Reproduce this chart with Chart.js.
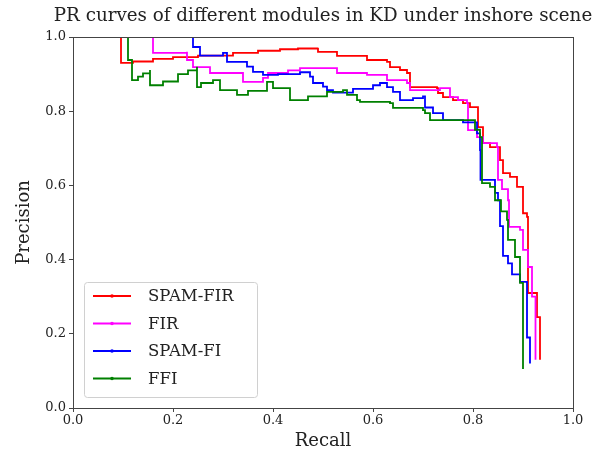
<!DOCTYPE html>
<html lang="en">
<head>
    <meta charset="UTF-8" />
    <title>PR curves</title>
    <script src="https://cdn.jsdelivr.net/npm/chart.js@4"></script>
    <style>
        html, body { margin: 0; padding: 0; background: #fff; }
    </style>
</head>
<body>
    <canvas id="myChart" width="608" height="454"></canvas>
    <script>
        // PR curve data (recall, precision)
        const chartTitle = "PR curves of different modules in KD under inshore scene";
        const seriesNames = ["SPAM-FIR", "FIR", "SPAM-FI", "FFI"];
        const seriesColors = ["#ff0000", "#ff00ff", "#0000ff", "#008000"];
        const xTicks = [0, 0.2, 0.4, 0.6, 0.8, 1.0];
        const yTicks = [0, 0.2, 0.4, 0.6, 0.8, 1.0];

        const recallSpamFir = [0, 0.096, 0.12, 0.16, 0.2, 0.25, 0.32, 0.37, 0.414, 0.45, 0.49, 0.49, 0.528, 0.528, 0.58, 0.588, 0.628, 0.634, 0.654, 0.668, 0.674, 0.728, 0.73, 0.74, 0.76, 0.78, 0.794, 0.81, 0.81, 0.82, 0.834, 0.854, 0.86, 0.874, 0.888, 0.9, 0.9, 0.908, 0.91, 0.928, 0.934];
        const precisionSpamFir = [1, 0.93, 0.934, 0.941, 0.946, 0.95, 0.957, 0.963, 0.967, 0.969, 0.971, 0.96, 0.957, 0.949, 0.949, 0.938, 0.933, 0.919, 0.911, 0.903, 0.865, 0.862, 0.849, 0.838, 0.83, 0.822, 0.811, 0.803, 0.757, 0.714, 0.703, 0.668, 0.633, 0.623, 0.596, 0.56, 0.525, 0.515, 0.31, 0.245, 0.13];

        const recallFir = [0, 0.16, 0.228, 0.228, 0.24, 0.274, 0.32, 0.34, 0.38, 0.39, 0.43, 0.454, 0.52, 0.528, 0.588, 0.628, 0.668, 0.674, 0.734, 0.754, 0.77, 0.788, 0.79, 0.808, 0.82, 0.848, 0.85, 0.858, 0.87, 0.872, 0.894, 0.9, 0.91, 0.918, 0.925];
        const precisionFir = [1, 0.957, 0.96, 0.938, 0.919, 0.903, 0.903, 0.879, 0.89, 0.903, 0.91, 0.916, 0.916, 0.903, 0.898, 0.884, 0.876, 0.857, 0.862, 0.838, 0.83, 0.822, 0.749, 0.73, 0.714, 0.703, 0.615, 0.59, 0.56, 0.488, 0.48, 0.426, 0.38, 0.3, 0.13];

        const recallSpamFi = [0, 0.24, 0.254, 0.3, 0.308, 0.34, 0.348, 0.36, 0.38, 0.41, 0.454, 0.474, 0.48, 0.5, 0.508, 0.52, 0.56, 0.6, 0.614, 0.628, 0.64, 0.654, 0.68, 0.7, 0.704, 0.72, 0.74, 0.78, 0.808, 0.814, 0.815, 0.844, 0.85, 0.854, 0.86, 0.87, 0.878, 0.894, 0.908, 0.908, 0.914];
        const precisionSpamFi = [1, 0.973, 0.95, 0.957, 0.933, 0.933, 0.92, 0.906, 0.898, 0.9, 0.905, 0.893, 0.876, 0.866, 0.857, 0.85, 0.86, 0.87, 0.876, 0.865, 0.852, 0.83, 0.835, 0.84, 0.81, 0.795, 0.776, 0.77, 0.74, 0.695, 0.615, 0.58, 0.56, 0.49, 0.41, 0.39, 0.36, 0.34, 0.32, 0.19, 0.12];

        const recallFfi = [0, 0.11, 0.118, 0.13, 0.14, 0.154, 0.154, 0.18, 0.21, 0.23, 0.248, 0.248, 0.256, 0.28, 0.294, 0.32, 0.328, 0.35, 0.388, 0.4, 0.434, 0.47, 0.508, 0.54, 0.548, 0.568, 0.574, 0.634, 0.64, 0.7, 0.704, 0.714, 0.788, 0.804, 0.814, 0.818, 0.834, 0.844, 0.856, 0.868, 0.87, 0.884, 0.894, 0.9, 0.9];
        const precisionFfi = [1, 0.938, 0.884, 0.893, 0.902, 0.911, 0.87, 0.88, 0.9, 0.91, 0.92, 0.865, 0.876, 0.884, 0.857, 0.857, 0.844, 0.855, 0.879, 0.862, 0.83, 0.84, 0.852, 0.857, 0.844, 0.83, 0.825, 0.822, 0.809, 0.803, 0.795, 0.776, 0.776, 0.75, 0.73, 0.606, 0.596, 0.56, 0.53, 0.507, 0.453, 0.407, 0.337, 0.318, 0.105];

        const recalls = [recallSpamFir, recallFir, recallSpamFi, recallFfi];
        const precisions = [precisionSpamFir, precisionFir, precisionSpamFi, precisionFfi];

        const serif = "'DejaVu Serif', serif";
        const ink = "#222";

        // Title centred over the plot area, like matplotlib does
        const axesTitle = {
            id: "axesTitle",
            afterDraw(chart) {
                const ctx = chart.ctx;
                const a = chart.chartArea;
                ctx.save();
                ctx.font = "18.3px " + serif;
                ctx.fillStyle = ink;
                ctx.textAlign = "center";
                ctx.textBaseline = "middle";
                ctx.fillText(chartTitle, (a.left + a.right) / 2, 16);
                ctx.restore();
            }
        };

        // Legend drawn inside the plot, lower left
        const innerLegend = {
            id: "innerLegend",
            afterDraw(chart) {
                const ctx = chart.ctx;
                const area = chart.chartArea;
                const x0 = area.left + 11, y0 = 282, w = 173, h = 115;
                ctx.save();
                ctx.fillStyle = "rgba(255,255,255,0.85)";
                ctx.strokeStyle = "#d0d0d0";
                ctx.lineWidth = 1;
                ctx.beginPath();
                ctx.roundRect(x0 + 0.5, y0 + 0.5, w, h, 3);
                ctx.fill();
                ctx.stroke();
                ctx.font = "16.5px " + serif;
                ctx.textBaseline = "middle";
                seriesNames.forEach((name, i) => {
                    const y = y0 + 14 + i * 27.5;
                    ctx.strokeStyle = seriesColors[i];
                    ctx.lineWidth = 1.8;
                    ctx.beginPath();
                    ctx.moveTo(x0 + 9, y);
                    ctx.lineTo(x0 + 47, y);
                    ctx.stroke();
                    ctx.fillStyle = seriesColors[i];
                    ctx.beginPath();
                    ctx.arc(x0 + 28, y, 1.8, 0, Math.PI * 2);
                    ctx.fill();
                    ctx.fillStyle = ink;
                    ctx.fillText(name, x0 + 64, y + 1);
                });
                ctx.restore();
            }
        };

        // Full box around the plot
        const frame = {
            id: "frame",
            afterDatasetsDraw(chart) {
                const a = chart.chartArea;
                const ctx = chart.ctx;
                ctx.save();
                ctx.strokeStyle = "#444";
                ctx.lineWidth = 1;
                ctx.strokeRect(a.left + 0.5, a.top + 0.5, a.right - a.left, a.bottom - a.top);
                ctx.restore();
            }
        };

        const datasets = seriesNames.map((name, i) => ({
            label: name,
            data: recalls[i].map((r, j) => ({ x: r, y: precisions[i][j] })),
            borderColor: seriesColors[i],
            backgroundColor: seriesColors[i],
            borderWidth: 1.8,
            pointRadius: 0,
            stepped: "before",
            fill: false,
            order: 4 - i,
        }));

        new Chart(document.getElementById("myChart"), {
            type: "scatter",
            data: { datasets },
            options: {
                responsive: false,
                animation: false,
                showLine: true,
                layout: { padding: { left: 0, right: 35, top: 37, bottom: 0 } },
                plugins: {
                    legend: { display: false },
                    tooltip: { enabled: false },
                    title: { display: false },
                },
                scales: {
                    x: {
                        type: "linear",
                        min: 0,
                        max: 1,
                        afterBuildTicks(scale) { scale.ticks = xTicks.map(v => ({ value: v })); },
                        afterFit(scale) { scale.height = 46; },
                        ticks: {
                            color: ink,
                            font: { family: serif, size: 13 },
                            padding: 1,
                            callback: v => v.toFixed(1),
                        },
                        grid: { drawOnChartArea: false, color: "#444", tickLength: 4 },
                        border: { color: "#444" },
                        title: {
                            display: true,
                            text: "Recall",
                            color: ink,
                            font: { family: serif, size: 18 },
                            padding: { top: 0, bottom: 2 },
                        },
                    },
                    y: {
                        type: "linear",
                        min: 0,
                        max: 1,
                        afterBuildTicks(scale) { scale.ticks = yTicks.map(v => ({ value: v })); },
                        afterFit(scale) { scale.width = 73; },
                        ticks: {
                            color: ink,
                            font: { family: serif, size: 13 },
                            padding: 3,
                            callback: v => v.toFixed(1),
                        },
                        grid: { drawOnChartArea: false, color: "#444", tickLength: 4 },
                        border: { color: "#444" },
                        title: {
                            display: true,
                            text: "Precision",
                            color: ink,
                            font: { family: serif, size: 18 },
                            padding: { top: 14, bottom: 0 },
                        },
                    },
                },
            },
            plugins: [frame, innerLegend, axesTitle],
        });
    </script>
</body>
</html>
